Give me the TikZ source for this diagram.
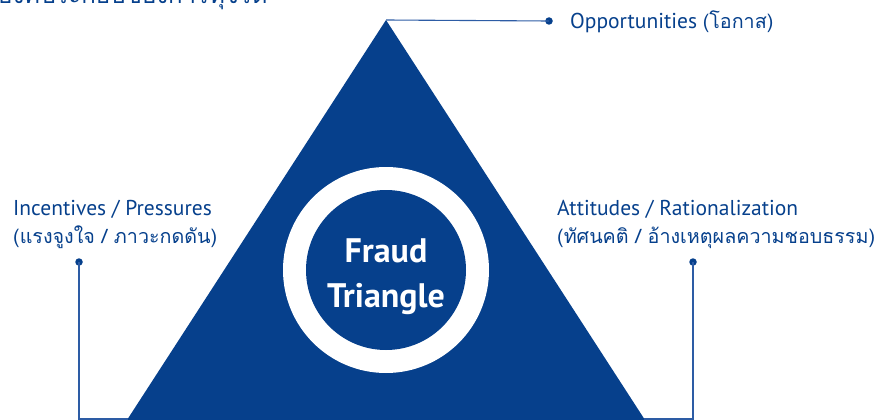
\documentclass[tikz,border=0pt]{standalone}
\usepackage{fontspec}
\setmainfont{PT Sans}
\newfontfamily\thaifont[Script=Thai]{Loma}
\definecolor{fblue}{RGB}{6,64,140}
\definecolor{lblue}{RGB}{45,92,165}
\tikzset{
  conn/.style={draw=lblue, line width=1.1pt},
  dotnode/.style={circle, fill=fblue, inner sep=0pt, minimum size=7.5pt},
  lab/.style={anchor=base west, inner sep=0pt, text=fblue, font=\fontsize{21.5}{24}\selectfont},
  tlab/.style={anchor=base west, inner sep=0pt, text=fblue, font=\thaifont\fontsize{19.7}{22}\selectfont},
}
\begin{document}
\begin{tikzpicture}[x=1pt,y=-1pt]
\useasboundingbox (0,0) rectangle (876,420);
% triangle
\coordinate (apex) at (386,20);
\coordinate (bl) at (127,420);
\coordinate (br) at (645,420);
\fill[fblue] (apex) -- (br) -- (bl) -- cycle;
\coordinate (lhook) at (128,419);
\coordinate (rhook) at (644,419);
% circle
\node[circle, fill=white, inner sep=0pt, minimum size=206pt] (ring) at (386,270) {};
\node[circle, fill=fblue, inner sep=0pt, minimum size=160pt] (core) at (386,270) {};
\node[inner sep=0pt, text=white, align=center,
      font=\bfseries\fontsize{34}{45}\selectfont] (coretext) at (386,277) {Fraud\\Triangle};
% dots
\node[dotnode] (tdot) at (549,21) {};
\node[dotnode] (ldot) at (79,262) {};
\node[dotnode] (rdot) at (693,262) {};
% connectors
\draw[conn] (apex) -- (tdot.center);
\draw[conn] (ldot.center) |- (lhook);
\draw[conn] (rdot.center) |- (rhook);
% labels
\node[lab] (opp) at (570,29) {Opportunities {\thaifont\fontsize{19.7}{22}\selectfont(โอกาส)}};
\node[lab] (inc1) at (13,215) {Incentives / Pressures};
\node[tlab] (inc2) at (13,243) {(แรงจูงใจ / ภาวะกดดัน)};
\node[lab] (att1) at (557,215) {Attitudes / Rationalization};
\node[tlab] (att2) at (557,243) {(ทัศนคติ / อ้างเหตุผลความชอบธรรม)};
\node[tlab, font=\thaifont\fontsize{24}{26}\selectfont] (title) at (-2,4) {องค์ประกอบของการทุจริต};
\end{tikzpicture}
\end{document}
